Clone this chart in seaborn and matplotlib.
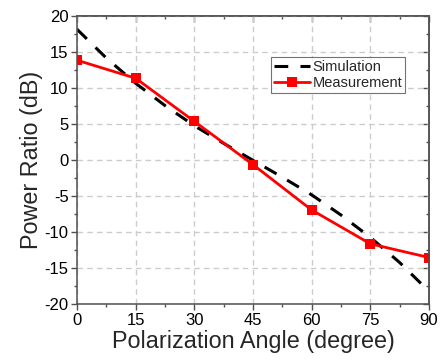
import numpy as np
import pandas as pd
import matplotlib
matplotlib.use("Agg")
import matplotlib.pyplot as plt
import seaborn as sns

# values
sim_angle = [0, 7.5, 15, 22.5, 30, 37.5, 45, 52.5, 60, 67.5, 75, 82.5, 90]
sim_ratio = [18.2, 14.2, 10.7, 7.6, 4.8, 2.35, 0.0, -2.35, -4.8, -7.6, -10.7, -14.2, -18.2]
meas_angle = [0, 15, 30, 45, 60, 75, 90]
meas_ratio = [13.9, 11.4, 5.4, -0.6, -6.9, -11.6, -13.5]
x_ticks = [0, 15, 30, 45, 60, 75, 90]
y_ticks = [-20, -15, -10, -5, 0, 5, 10, 15, 20]

sns.set_style("white")
plt.rcParams['font.family'] = ['Liberation Sans', 'DejaVu Sans']
plt.rcParams['axes.unicode_minus'] = False

sim = pd.DataFrame({'angle': sim_angle, 'ratio': sim_ratio})
meas = pd.DataFrame({'angle': meas_angle, 'ratio': meas_ratio})

fig = plt.figure(figsize=(4.41, 3.6), dpi=100)
ax = fig.add_axes([0.1746, 0.1547, 0.7982, 0.8])

spine_col = '#505050'

sns.lineplot(data=sim, x='angle', y='ratio', ax=ax, color='black',
             linewidth=2.2, linestyle=(0, (4.5, 4)), label='Simulation')
sns.lineplot(data=meas, x='angle', y='ratio', ax=ax, color='#ff0000',
             linewidth=2.0, marker='s', markersize=6.5, markeredgewidth=0,
             label='Measurement')

ax.set_xlim(0, 90)
ax.set_ylim(-20, 20)
ax.set_xticks(x_ticks)
ax.set_yticks(y_ticks)
ax.set_xticks(np.arange(7.5, 90, 15), minor=True)
ax.set_yticks(np.arange(-17.5, 20, 5), minor=True)
ax.grid(True, which='major', color='#cccccc', linestyle=(0, (4, 3)), linewidth=1)
ax.set_axisbelow(True)

for s in ax.spines.values():
    s.set_color(spine_col)
    s.set_linewidth(1.1)
ax.tick_params(which='both', direction='out', color=spine_col, width=1,
               labelsize=12, labelcolor='black', left=True, bottom=True)
ax.tick_params(which='major', length=4, pad=2)
ax.tick_params(which='minor', length=2.5)

top = ax.secondary_xaxis('top')
top.set_xticks(x_ticks)
top.set_xticks(np.arange(7.5, 90, 15), minor=True)
right = ax.secondary_yaxis('right')
right.set_yticks(y_ticks)
right.set_yticks(np.arange(-17.5, 20, 5), minor=True)
for sec in (top, right):
    sec.tick_params(which='both', direction='in', color=spine_col, width=1,
                    labeltop=False, labelright=False)
    sec.tick_params(which='major', length=4)
    sec.tick_params(which='minor', length=2.5)
    for s in sec.spines.values():
        s.set_color(spine_col)
        s.set_linewidth(1.1)

ax.set_xlabel('Polarization Angle (degree)', fontsize=16.8, labelpad=2)
ax.set_ylabel('Power Ratio (dB)', fontsize=16.8, labelpad=1)

leg = ax.legend(loc='upper right', bbox_to_anchor=(0.932, 0.858),
                borderaxespad=0, fontsize=10.5, frameon=True, fancybox=False,
                handlelength=2.5, handletextpad=0.15, labelspacing=0.15,
                borderpad=0.2)
leg.get_frame().set_edgecolor(spine_col)
leg.get_frame().set_linewidth(0.8)

fig.savefig('out.png', dpi=100)
